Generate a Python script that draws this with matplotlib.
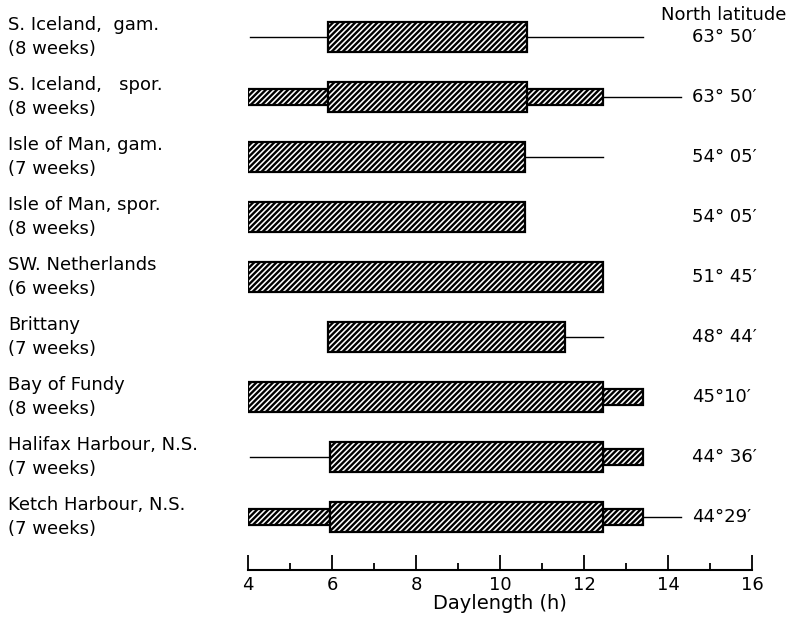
import matplotlib
matplotlib.use('Agg')
import matplotlib.pyplot as plt
import matplotlib.transforms as mtransforms

# Data (daylength in hours)
sites = ['S. Iceland,  gam.\n(8 weeks)',
         'S. Iceland,   spor.\n(8 weeks)',
         'Isle of Man, gam.\n(7 weeks)',
         'Isle of Man, spor.\n(8 weeks)',
         'SW. Netherlands\n(6 weeks)',
         'Brittany\n(7 weeks)',
         'Bay of Fundy\n(8 weeks)',
         'Halifax Harbour, N.S.\n(7 weeks)',
         'Ketch Harbour, N.S.\n(7 weeks)']
latitudes = ["63\u00b0 50\u2032", "63\u00b0 50\u2032", "54\u00b0 05\u2032",
             "54\u00b0 05\u2032", "51\u00b0 45\u2032", "48\u00b0 44\u2032",
             "45\u00b010\u2032", "44\u00b0 36\u2032", "44\u00b029\u2032"]
thick_bars = [(5.9, 10.65), (5.9, 10.65), (4.0, 10.6), (4.0, 10.6),
              (4.0, 12.45), (5.9, 11.55), (4.0, 12.45), (5.95, 12.45),
              (5.95, 12.45)]
thin_bars = [[], [(4.0, 5.9), (10.65, 12.45)], [], [], [], [],
             [(12.45, 13.4)], [(12.45, 13.4)], [(4.0, 5.95), (12.45, 13.4)]]
thin_lines = [[(4.05, 5.9), (10.65, 13.4)], [(12.45, 14.3)], [(10.6, 12.45)],
              [], [], [(11.55, 12.45)], [], [(4.05, 5.95)], [(13.4, 14.3)]]

plt.rcParams['font.family'] = 'DejaVu Sans'
plt.rcParams['hatch.linewidth'] = 1.7

fig = plt.figure(figsize=(7.99, 6.18), dpi=100)
ax = fig.add_axes([248 / 799, 1 - 570 / 618, 504 / 799, 570 / 618])

for i in range(len(sites)):
    for x0, x1 in thin_lines[i]:
        ax.plot([x0, x1], [i, i], color='black', lw=1.0)
    for x0, x1 in thin_bars[i]:
        ax.barh(i, x1 - x0, left=x0, height=0.27, color='white',
                edgecolor='black', hatch='//////', lw=1.6)
    x0, x1 = thick_bars[i]
    ax.barh(i, x1 - x0, left=x0, height=0.5, color='white',
            edgecolor='black', hatch='//////', lw=1.6)

ax.set_xlim(4, 16)
ax.set_ylim(8.883, -0.617)
for side in ['left', 'right', 'top']:
    ax.spines[side].set_visible(False)
ax.spines['bottom'].set_linewidth(1.5)
ax.set_yticks([])
ax.set_xticks(range(4, 17, 2))
ax.set_xticks(range(5, 16, 2), minor=True)
ax.tick_params(axis='x', which='major', direction='in', length=11,
               width=1.3, labelsize=13, pad=4)
ax.tick_params(axis='x', which='minor', direction='in', length=5, width=1.3)
ax.set_xlabel('Daylength (h)', fontsize=14, labelpad=0)

trans = mtransforms.blended_transform_factory(fig.transFigure, ax.transData)
for i in range(len(sites)):
    ax.text(0.01, i, sites[i], transform=trans, ha='left', va='center',
            fontsize=13, linespacing=1.42)
    ax.text(692 / 799, i, latitudes[i], transform=trans, ha='left',
            va='center', fontsize=13)
fig.text(724 / 799, 1 - 15 / 618, 'North latitude', ha='center',
         va='center', fontsize=13)

fig.savefig('out.png', dpi=100)
